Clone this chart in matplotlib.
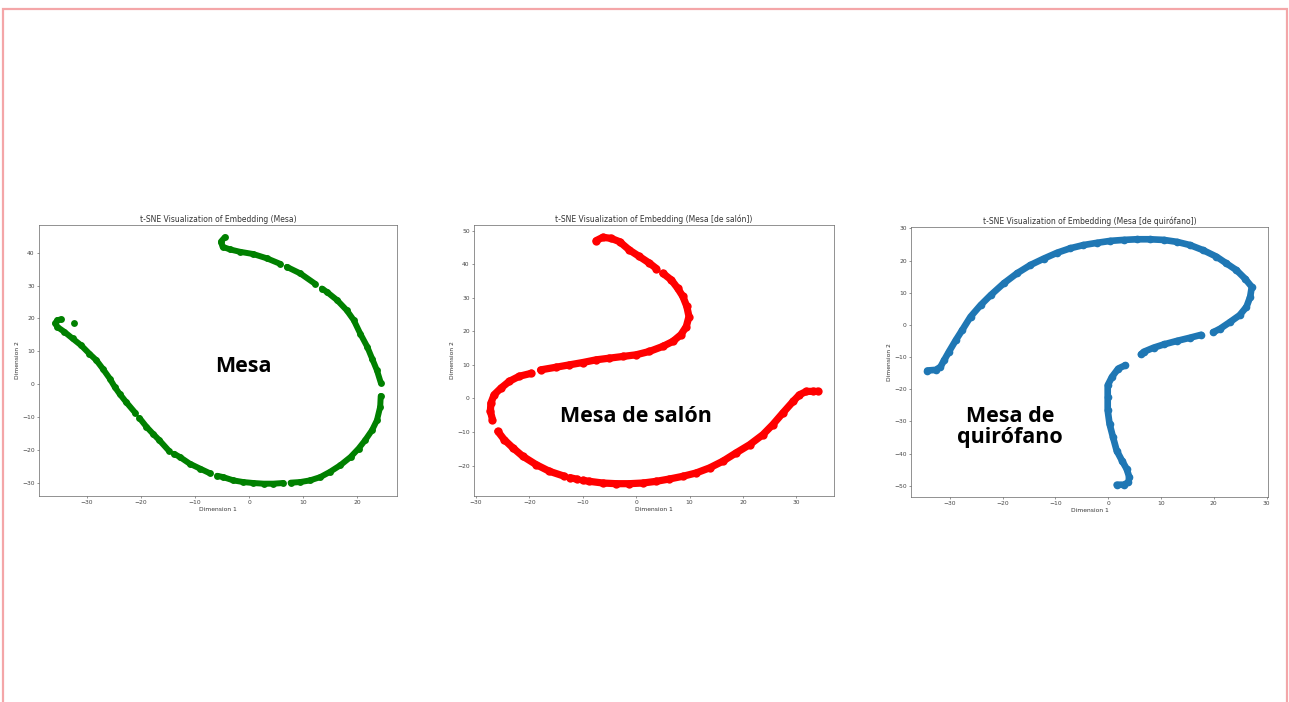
import numpy as np
import matplotlib.pyplot as plt
from matplotlib.patches import Rectangle

nan = np.nan

# points (nan = gap in the point cloud)
mesa_x = [-32.5, nan, -34.8, -35.5, -35.9, -35.5, -34.2, -32.7, -31.1, -29.6, -28.3, -27.1,
          -25.8, -24.9, -24.0, -22.8, -21.1, nan, -20.3, -19.0, -17.8, -16.6, -14.9, nan,
          -13.9, -12.8, -11.0, -9.1, -7.3, nan, -5.9, -4.8, -2.9, -1.1, 0.8, 2.7, 4.5, 6.3, nan,
          7.7, 9.5, 11.3, 13.2, 15.0, 16.9, 18.8, 20.3, 21.5, 22.8, 23.7, 24.3, 24.4, nan,
          24.4, 23.7, 22.8, 21.9, 20.6, 19.4, 18.1, 16.3, 14.4, 13.5, nan, 12.2, 9.5, 7.0, nan,
          5.8, 3.3, 0.8, -1.7, -3.5, -4.9, -5.2, -4.5]
mesa_y = [18.7, nan, 19.7, 19.5, 18.5, 17.4, 15.9, 13.9, 11.8, 9.3, 7.3, 4.7,
          1.7, -0.8, -2.9, -5.4, -8.7, nan, -10.3, -13.0, -15.1, -17.1, -20.2, nan,
          -21.2, -22.2, -24.2, -25.7, -27.1, nan, -27.9, -28.3, -29.3, -29.8, -30.1, -30.3, -30.3, -30.1, nan,
          -30.0, -29.8, -29.3, -28.3, -26.7, -24.7, -22.2, -19.6, -17.1, -14.0, -11.0, -6.9, -3.6, nan,
          0.5, 4.2, 7.8, 11.4, 15.4, 19.5, 22.5, 25.6, 28.1, 29.1, nan, 30.6, 33.7, 35.7, nan,
          36.6, 38.3, 39.6, 40.3, 41.0, 41.8, 43.4, 44.7]

salon_x = [-7.5, -6.25, -4.7, -3.1, -1.25, 0.6, 2.5, 3.8, nan, 5.0, 6.6, 7.8, 8.75, 9.5, 9.9,
           9.4, 8.4, 6.9, 5.0, 2.5, 0.0, -2.5, -5.0, -7.5, -10.0, -12.5, -15.0, -17.9, nan,
           -19.6, -21.9, -23.75, -25.3, -26.6, -27.2, -27.3, -26.9, nan, -25.9, -24.7, -23.1,
           -21.25, -18.75, -16.25, -13.6, nan, -12.4, -11.0, nan, -10.0, -8.75, -6.25, -3.75,
           -1.25, 1.25, 3.75, 6.25, 8.75, 11.25, 13.75, 16.25, 18.75, 21.25, 23.75, 25.6, 27.5,
           29.4, 30.6, 31.9, 33.1, 34.0]
salon_y = [47.0, 48.0, 47.7, 46.7, 44.2, 42.3, 40.3, 38.7, nan, 37.3, 35.3, 32.8, 30.4, 27.4, 24.4,
           21.4, 19.0, 17.0, 15.5, 14.0, 13.0, 12.5, 12.0, 11.5, 10.7, 10.0, 9.3, 8.5, nan,
           7.5, 6.6, 5.1, 3.1, 1.1, -1.4, -3.8, -6.3, nan, -9.8, -12.3, -14.7,
           -17.2, -19.7, -21.7, -23.1, nan, -23.6, -24.1, nan, -24.4, -24.7, -25.2, -25.4,
           -25.4, -25.2, -24.7, -24.0, -23.2, -22.2, -20.7, -18.7, -16.2, -13.8, -10.8, -7.8, -4.3,
           -0.9, 1.1, 2.1, 2.1, 2.1]

quiro_x = [-34.3, -32.7, -31.8, -31.1, -30.2, -28.9, -27.7, -26.1, -24.2, -22.3, -19.8, -17.3,
           -14.75, -12.2, -9.7, -7.2, -4.7, -2.1, 0.4, 2.9, 5.4, 7.9, 10.5, 13.0, 15.5, 18.0,
           20.5, 22.4, 24.3, 25.9, 27.2, 26.9, 26.2, 24.9, 23.1, 21.2, 19.9, nan, 17.6, 15.5,
           13.0, 10.5, 8.6, 6.7, 6.2, nan, 3.2, 1.9, 0.7, -0.1, -0.1, -0.1, 0.25, 0.9, 1.6, 2.6,
           3.5, 4.0, 3.8, 2.9, 1.6]
quiro_y = [-14.2, -14.0, -13.1, -11.0, -8.4, -4.8, -1.7, 2.5, 6.1, 9.2, 12.9, 16.0,
           18.6, 20.6, 22.4, 23.8, 24.8, 25.5, 26.1, 26.4, 26.6, 26.6, 26.4, 25.8, 24.8, 23.2,
           21.2, 19.1, 17.0, 14.4, 11.8, 8.7, 5.6, 3.0, 0.9, -1.2, -2.3, nan, -3.1, -4.0,
           -5.0, -6.1, -7.1, -8.4, -9.2, nan, -12.6, -13.6, -16.2, -18.8, -22.5, -26.6, -30.8, -34.9, -39.1, -42.2,
           -44.8, -47.4, -49.0, -49.7, -49.7]

titles = ['t-SNE Visualization of Embedding (Mesa)',
          't-SNE Visualization of Embedding (Mesa [de salón])',
          't-SNE Visualization of Embedding (Mesa [de quirófano])']
labels = ['Mesa', 'Mesa de salón', 'Mesa de\nquirófano']
colors = ['green', 'red', '#1f77b4']

W, H = 1289, 702
fig = plt.figure(figsize=(W / 100, H / 100), dpi=100)

# pink slide border
fig.patches.append(Rectangle((3 / W, -0.02), 1284 / W, 1 - 9 / H + 0.02, transform=fig.transFigure,
                             fill=False, edgecolor='#f4a6a8', linewidth=1.6))

boxes = [(39, 225, 397, 496), (474, 225, 834, 496), (911, 227, 1268, 497)]
data = [(mesa_x, mesa_y), (salon_x, salon_y), (quiro_x, quiro_y)]
widths = [4.3, 5.2, 4.8]

for (x0, y0, x1, y1), (xs, ys), title, col, lw in zip(boxes, data, titles, colors, widths):
    ax = fig.add_axes([x0 / W, 1 - y1 / H, (x1 - x0) / W, (y1 - y0) / H])
    ax.plot(xs, ys, '-o', color=col, lw=lw, ms=lw * 1.15, mew=0,
            solid_capstyle='round', solid_joinstyle='round')
    ax.set_title(title, fontsize=5.5, pad=2.5, color='#333333')
    ax.set_xlabel('Dimension 1', fontsize=4.3, labelpad=1, color='#333333')
    ax.set_ylabel('Dimension 2', fontsize=4.3, labelpad=1.5, color='#333333')
    ax.tick_params(labelsize=4.3, length=1.6, width=0.4, pad=1.5, colors='#444444')
    for sp in ax.spines.values():
        sp.set_linewidth(0.5)
        sp.set_color('#666666')

# overlaid slide labels
fig.text(243 / W, 1 - 367 / H, labels[0], ha='center', va='center',
         fontsize=15.5, fontweight='bold', family='Open Sans')
fig.text(636 / W, 1 - 416 / H, labels[1], ha='center', va='center',
         fontsize=15.5, fontweight='bold', family='Open Sans')
fig.text(1010 / W, 1 - 427 / H, labels[2], ha='center', va='center',
         fontsize=15.5, fontweight='bold', family='Open Sans', linespacing=1.05)

fig.savefig('out.png', dpi=100)
